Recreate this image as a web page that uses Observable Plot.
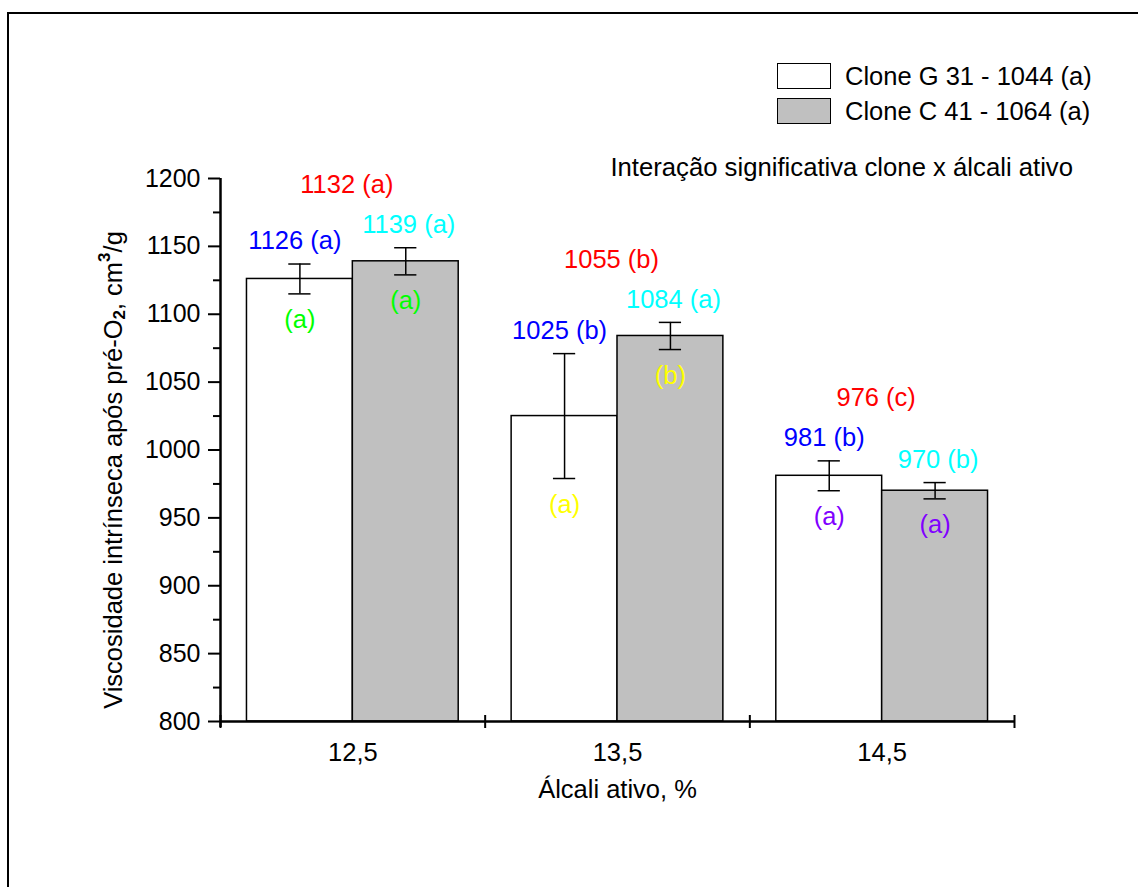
<!DOCTYPE html>
<html>
<head>
<meta charset="utf-8">
<script src="https://cdn.jsdelivr.net/npm/d3@7"></script>
<script src="https://cdn.jsdelivr.net/npm/@observablehq/plot@0.6"></script>
<style>
  html, body { margin: 0; padding: 0; background: #fff; overflow: hidden; }
  #wrap { position: relative; width: 1138px; height: 887px; font-family: "Liberation Sans", Arial, sans-serif; color: #000; }
  #frame { position: absolute; left: 7px; top: 12px; width: 1200px; height: 950px; border-left: 2.5px solid #000; border-top: 2.5px solid #000; }
  .sw { position: absolute; left: 777px; width: 54px; height: 26px; border: 1.5px solid #000; box-sizing: border-box; }
  .lt { position: absolute; left: 845px; font-size: 25.5px; line-height: 30px; white-space: nowrap; }
  #note { position: absolute; right: 65px; top: 152px; font-size: 25.7px; line-height: 30px; white-space: nowrap; }
  #chart { position: absolute; left: 0; top: 0; }
</style>
</head>
<body>
<div id="wrap">
  <div id="chart"></div>
  <div id="frame"></div>
  <div id="legend"></div>
  <div id="note"></div>
</div>
<script>
// ---- data ----
const categories = ["12,5", "13,5", "14,5"];
const seriesNames = ["Clone G 31 - 1044 (a)", "Clone C 41 - 1064 (a)"];
const seriesFills = ["#ffffff", "#c0c0c0"];
const cloneG = [1126, 1025, 981];
const cloneC = [1139, 1084, 970];
const cloneGErr = [11, 46, 11];
const cloneCErr = [10, 10, 6];
const cloneGLabels = ["1126 (a)", "1025 (b)", "981 (b)"];
const cloneCLabels = ["1139 (a)", "1084 (a)", "970 (b)"];
const alkaliLabels = ["1132 (a)", "1055 (b)", "976 (c)"];
const cloneGLetters = ["(a)", "(a)", "(a)"];
const cloneCLetters = ["(a)", "(b)", "(a)"];
const letterColors = ["#00ff00", "#ffff00", "#8000ff"];
const yTicks = [800, 850, 900, 950, 1000, 1050, 1100, 1150, 1200];
const yMinor = [825, 875, 925, 975, 1025, 1075, 1125, 1175];
const noteText = "Interação significativa clone x álcali ativo";
const xTitle = "Álcali ativo, %";

// ---- build table ----
const rows = categories.flatMap((c, i) => [
  {cat: c, i, s: 0, value: cloneG[i], err: cloneGErr[i], label: cloneGLabels[i], letter: cloneGLetters[i]},
  {cat: c, i, s: 1, value: cloneC[i], err: cloneCErr[i], label: cloneCLabels[i], letter: cloneCLetters[i]}
]);
const barW = 0.4;
const x1 = d => d.i + 0.1 + d.s * barW;
const x2 = d => d.i + 0.1 + (d.s + 1) * barW;
const xc = d => d.i + 0.1 + (d.s + 0.5) * barW;
const capHalf = 0.042;
const font = "Liberation Sans, Arial, sans-serif";
const fs = 25.5;

const plot = Plot.plot({
  width: 1138,
  height: 887,
  marginLeft: 220,
  marginRight: 124,
  marginTop: 178,
  marginBottom: 166,
  style: {fontFamily: font, background: "transparent", color: "#000"},
  x: {type: "linear", domain: [0, 3], axis: null},
  y: {domain: [800, 1200], axis: null},
  color: {type: "identity"},
  marks: [
    Plot.rect(rows, {x1, x2, y1: () => 800, y2: "value", fill: d => seriesFills[d.s], stroke: "#000", strokeWidth: 1.5}),
    Plot.ruleX(rows, {x: xc, y1: d => d.value - d.err, y2: d => d.value + d.err, stroke: "#000", strokeWidth: 1.5}),
    Plot.ruleY(rows, {y: d => d.value + d.err, x1: d => xc(d) - capHalf, x2: d => xc(d) + capHalf, stroke: "#000", strokeWidth: 1.5}),
    Plot.ruleY(rows, {y: d => d.value - d.err, x1: d => xc(d) - capHalf, x2: d => xc(d) + capHalf, stroke: "#000", strokeWidth: 1.5}),
    // axes
    Plot.axisY({ticks: yTicks, tickSize: 12, tickPadding: 8, strokeWidth: 2, fontSize: 25, label: null, tickFormat: d => String(d)}),
    Plot.axisY({ticks: yMinor, tickSize: 7, strokeWidth: 2, tickFormat: () => "", label: null}),
    Plot.ruleX([0], {stroke: "#000", strokeWidth: 2.5, insetBottom: -6}),
    Plot.ruleY([800], {x1: 0, x2: 3, stroke: "#000", strokeWidth: 2.5}),
    Plot.ruleX([0, 1, 2, 3], {y1: () => 800, y2: () => 800, insetTop: -6, insetBottom: -7, stroke: "#000", strokeWidth: 2}),
    Plot.text(categories, {x: (d, i) => i + 0.5, y: () => 800, text: d => d, dy: 31, fontSize: fs, fill: "#000"}),
    Plot.text([xTitle], {frameAnchor: "bottom", lineAnchor: "middle", text: d => d, dy: 68, fontSize: fs, fill: "#000"}),
    // annotations
    Plot.text(rows.filter(d => d.s === 0), {x: xc, y: d => d.value + d.err, text: "label", dy: -23, dx: -5, fontSize: fs, fill: "#0000ff"}),
    Plot.text(rows.filter(d => d.s === 1), {x: xc, y: d => d.value + d.err, text: "label", dy: -23, dx: 3, fontSize: fs, fill: "#00ffff"}),
    Plot.text(rows, {x: xc, y: d => d.value - d.err, text: "letter", dy: 26, fontSize: fs, fill: d => letterColors[d.i]}),
    Plot.text(alkaliLabels, {x: (d, i) => i + 0.5, y: (d, i) => Math.max(cloneG[i] + cloneGErr[i], cloneC[i] + cloneCErr[i]), text: d => d, dy: -63, dx: -6, fontSize: fs, fill: "#ff0000"})
  ]
});
document.getElementById("chart").appendChild(plot);

// y-axis title with sub/superscripts
const svg = d3.select(plot);
const t = svg.append("text")
  .attr("transform", "translate(113,470) rotate(-90)")
  .attr("text-anchor", "middle")
  .attr("dominant-baseline", "central")
  .attr("font-size", fs)
  .attr("font-family", font)
  .attr("fill", "#000");
t.append("tspan").text("Viscosidade intrínseca após pré-O");
t.append("tspan").attr("font-size", 17).attr("font-weight", "bold").attr("dy", 6).text("2");
t.append("tspan").attr("dy", -6).text(", cm");
t.append("tspan").attr("font-size", 17).attr("font-weight", "bold").attr("dy", -9).text("3");
t.append("tspan").attr("dy", 9).text("/g");

// legend
const legend = document.getElementById("legend");
seriesNames.forEach((name, i) => {
  const sw = document.createElement("div");
  sw.className = "sw";
  sw.style.top = (63 + i * 35) + "px";
  sw.style.background = seriesFills[i];
  legend.appendChild(sw);
  const lt = document.createElement("div");
  lt.className = "lt";
  lt.style.top = (61 + i * 35) + "px";
  lt.textContent = name;
  legend.appendChild(lt);
});
document.getElementById("note").textContent = noteText;
</script>
</body>
</html>
